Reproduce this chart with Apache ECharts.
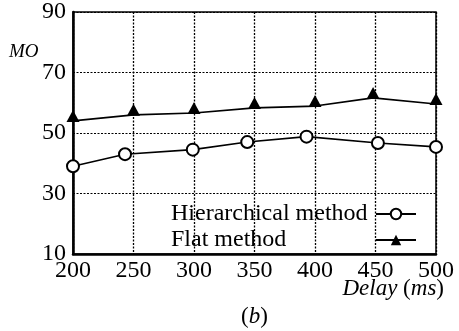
<!DOCTYPE html>
<html><head><meta charset="utf-8">
<script src="https://cdn.jsdelivr.net/npm/echarts@6/dist/echarts.min.js"></script>
<style>html,body{margin:0;padding:0;background:#fff}#c{width:459px;height:331px}</style>
</head><body><div id="c"></div>
<script>
const xTicks = [200, 250, 300, 350, 400, 450, 500];
const yTicks = [10, 30, 50, 70, 90];
const hierX = [200, 243, 299, 344, 393, 452, 500];
const hierY = [39.0, 43.0, 44.5, 47.0, 48.8, 46.7, 45.4];
const flatX = [200, 250, 300, 350, 400, 448, 500];
const flatY = [54.0, 56.0, 56.6, 58.3, 58.9, 61.6, 59.6];
const seriesNames = ['Hierarchical method', 'Flat method'];

const FONT = "'Liberation Serif'";
const chart = echarts.init(document.getElementById('c'), null, {renderer: 'canvas'});
chart.setOption({
  animation: false,
  backgroundColor: '#fff',
  textStyle: {fontFamily: FONT},
  grid: {left: 73, right: 23, top: 12, bottom: 77, show: true, borderColor: '#000', borderWidth: 1.5, backgroundColor: 'transparent'},
  xAxis: {
    type: 'value', min: xTicks[0], max: xTicks[xTicks.length - 1], interval: 50,
    axisLine: {show: true, onZero: false, lineStyle: {color: '#000', width: 2.5}},
    axisTick: {show: false},
    axisLabel: {color: '#000', fontFamily: FONT, fontSize: 24, margin: 5},
    splitLine: {show: true, lineStyle: {color: '#000', width: 1.3, type: [2, 1.5]}}
  },
  yAxis: {
    type: 'value', min: yTicks[0], max: yTicks[yTicks.length - 1], interval: 20,
    axisLine: {show: true, onZero: false, lineStyle: {color: '#000', width: 2.5}},
    axisTick: {show: false},
    axisLabel: {color: '#000', fontFamily: FONT, fontSize: 24, margin: 7},
    splitLine: {show: true, lineStyle: {color: '#000', width: 1, type: [2, 1.5]}}
  },
  legend: {
    orient: 'vertical', right: 37, top: 197, itemGap: 2, align: 'right',
    itemWidth: 40, itemHeight: 13,
    textStyle: {color: '#000', fontFamily: FONT, fontSize: 24,
      rich: {a: {width: 200, align: 'left', fontFamily: FONT, fontSize: 24, color: '#000'}}},
    formatter: name => '{a|' + name + '}',
    data: seriesNames
  },
  graphic: [
    {type: 'text', left: 9, top: 42, style: {text: 'MO', fontFamily: FONT, fontSize: 19, fontStyle: 'italic', fill: '#000'}},
    {type: 'text', right: 15, top: 277, style: {text: '{i|Delay} ({i|ms})', fontFamily: FONT, fontSize: 23, fill: '#000',
      rich: {i: {fontStyle: 'italic', fontFamily: FONT, fontSize: 23}}}},
    {type: 'text', left: 241, top: 305, style: {text: '({i|b})', fontFamily: FONT, fontSize: 23, fill: '#000',
      rich: {i: {fontStyle: 'italic', fontFamily: FONT, fontSize: 23}}}}
  ],
  series: [
    {
      name: seriesNames[0], type: 'line',
      data: hierX.map((x, i) => [x, hierY[i]]),
      symbol: 'circle', symbolSize: 12, showAllSymbol: true,
      itemStyle: {color: '#fff', borderColor: '#000', borderWidth: 2},
      lineStyle: {color: '#000', width: 1.6},
      z: 3
    },
    {
      name: seriesNames[1], type: 'line',
      data: flatX.map((x, i) => [x, flatY[i]]),
      symbol: 'triangle', symbolSize: [13, 12], symbolOffset: [0, -5], showAllSymbol: true,
      itemStyle: {color: '#000', borderColor: '#000', borderWidth: 0},
      lineStyle: {color: '#000', width: 1.6},
      z: 3
    }
  ]
});
</script></body></html>
